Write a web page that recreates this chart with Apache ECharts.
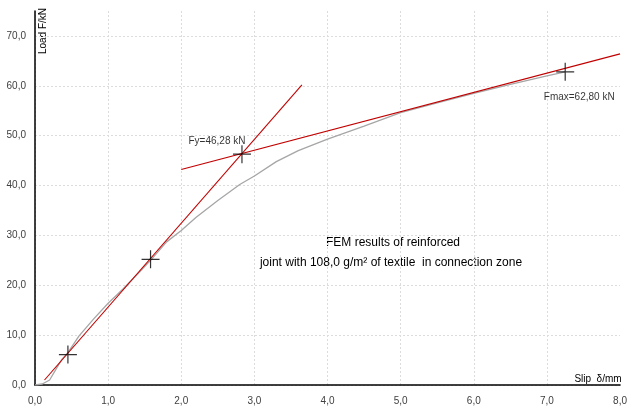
<!DOCTYPE html>
<html>
<head>
<meta charset="utf-8">
<script src="https://cdn.jsdelivr.net/npm/echarts@6/dist/echarts.min.js"></script>
<style>
  html, body { margin: 0; padding: 0; background: #fff; }
  #chart { width: 630px; height: 406px; }
</style>
</head>
<body>
<div id="chart"></div>
<script>
// FEM load-slip curve (gray)
const curveX = [0, 0.1, 0.2, 0.3, 0.37, 0.45, 0.6, 0.8, 1.0, 1.2, 1.4, 1.58, 1.8, 2.0, 2.2, 2.5, 2.8, 3.0, 3.3, 3.6, 4.0, 4.5, 5.0, 5.5, 6.0, 6.5, 7.0, 7.25]
const curveY = [0, 0.2, 1.0, 3.5, 5.2, 6.5, 9.8, 13.2, 16.4, 19.2, 22.2, 25.0, 28.7, 31.0, 33.6, 37.0, 40.2, 41.9, 44.8, 47.0, 49.3, 51.9, 54.6, 56.6, 58.5, 60.3, 62.0, 62.8]

// red tangent lines
const initX = [0.13, 3.65]
const initY = [1.0, 60.2]
const postX = [2.0, 8.0]
const postY = [43.2, 66.4]

// cross markers
const markX = [0.45, 1.58, 2.83, 7.25]
const markY = [6.1, 25.2, 46.28, 62.8]
const markLabels = ['', '', 'Fy=46,28 kN', 'Fmax=62,80 kN']

const xTicks = [0, 1, 2, 3, 4, 5, 6, 7, 8]
const yTicks = [0, 10, 20, 30, 40, 50, 60, 70]

const noteLines = ['FEM results of reinforced', 'joint with 108,0 g/m² of textile  in connection zone']

const font = 'Liberation Sans'
const pairs = (xs, ys) => xs.map((x, i) => [x, ys[i]])
const fmt = v => v.toFixed(1).replace('.', ',')

const labelOffsets = [null, null, [-25, -13], [14, 25]]

const chart = echarts.init(document.getElementById('chart'))
chart.setOption({
  animation: false,
  backgroundColor: '#fff',
  textStyle: { fontFamily: font },
  grid: { left: 35, right: 9, top: 11, bottom: 20 },
  xAxis: {
    type: 'value',
    min: 0,
    max: 8,
    interval: 1,
    axisLine: { lineStyle: { color: '#000', width: 1.5 } },
    axisTick: { show: false },
    axisLabel: {
      fontSize: 10, color: '#404040', margin: 11,
      formatter: v => xTicks.includes(v) ? fmt(v) : ''
    },
    splitLine: { show: true, showMaxLine: false, lineStyle: { color: '#dcdcdc', type: [2, 2] } }
  },
  yAxis: {
    type: 'value',
    min: 0,
    max: 75,
    interval: 10,
    axisLine: { show: true, onZero: false, lineStyle: { color: '#000', width: 1.5 } },
    axisTick: { show: false },
    axisLabel: {
      fontSize: 10, color: '#404040', margin: 9, showMaxLabel: false,
      formatter: v => yTicks.includes(v) ? fmt(v) : ''
    },
    splitLine: { show: true, showMaxLine: false, lineStyle: { color: '#dcdcdc', type: [2, 2] } }
  },
  graphic: [
    {
      type: 'text', x: 43, y: 31, rotation: Math.PI / 2,
      style: { text: 'Load F/kN', font: '10px ' + font, fill: '#000', align: 'center', verticalAlign: 'middle', backgroundColor: '#fff' }
    },
    {
      type: 'text', x: 598, y: 379,
      style: { text: 'Slip  δ/mm', font: '10px ' + font, fill: '#000', align: 'center', verticalAlign: 'middle' }
    },
    {
      type: 'text', x: 393, y: 243,
      style: { text: noteLines[0], font: '12px ' + font, fill: '#000', align: 'center', verticalAlign: 'middle' }
    },
    {
      type: 'text', x: 391, y: 263,
      style: { text: noteLines[1], font: '12px ' + font, fill: '#000', align: 'center', verticalAlign: 'middle' }
    }
  ],
  series: [
    {
      type: 'line', data: pairs(curveX, curveY), showSymbol: false,
      lineStyle: { color: '#a6a6a6', width: 1.3 }, z: 2
    },
    {
      type: 'line', data: pairs(initX, initY), showSymbol: false,
      lineStyle: { color: '#c00000', width: 1.1 }, z: 3
    },
    {
      type: 'line', data: pairs(postX, postY), showSymbol: false,
      lineStyle: { color: '#c00000', width: 1.1 }, z: 3
    },
    {
      type: 'scatter',
      symbol: 'path://M0,-10 L0,10 M-10,0 L10,0',
      symbolSize: 18,
      itemStyle: { color: 'transparent', borderColor: '#000', borderWidth: 1.2 },
      z: 4,
      data: markX.map((x, i) => ({
        value: [x, markY[i]],
        label: {
          show: markLabels[i] !== '',
          formatter: markLabels[i],
          position: 'inside',
          offset: labelOffsets[i] || [0, 0],
          fontSize: 10,
          color: '#000'
        }
      }))
    }
  ]
})
</script>
</body>
</html>
